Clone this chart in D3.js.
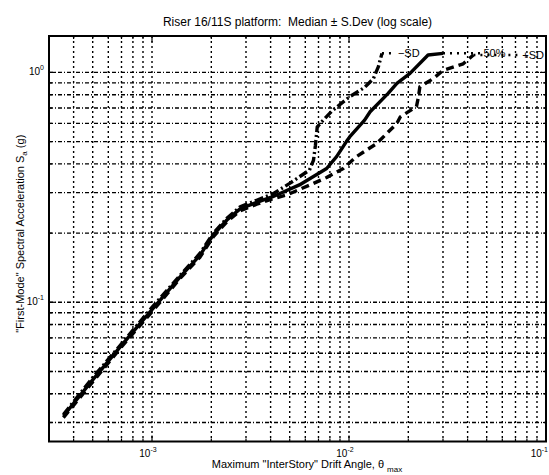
<!DOCTYPE html>
<html>
<head>
<meta charset="utf-8">
<script src="https://cdn.jsdelivr.net/npm/d3@7"></script>
<style>
  body { margin: 0; background: #fff; }
  text { font-family: "Liberation Sans", Arial, sans-serif; fill: #000; }
</style>
</head>
<body>
<svg id="chart" width="549" height="475"></svg>
<script>
// Series (drift angle vs Sa)
var minusSdX = [3.55e-4, 5e-4, 7e-4, 1e-3, 1.4e-3, 1.75e-3, 2.05e-3, 2.4e-3, 2.8e-3, 3.4e-3, 4.1e-3, 5.0e-3, 6.3e-3, 6.6e-3, 6.75e-3, 6.9e-3, 7.4e-3, 8.2e-3, 1.0e-2, 1.2e-2, 1.33e-2, 1.41e-2, 1.47e-2];
var minusSdY = [0.0325, 0.047, 0.066, 0.095, 0.132, 0.163, 0.2, 0.232, 0.26, 0.278, 0.296, 0.329, 0.376, 0.414, 0.48, 0.58, 0.62, 0.68, 0.78, 0.86, 0.94, 1.06, 1.21];

var medianX = [3.55e-4, 5e-4, 7e-4, 1e-3, 1.4e-3, 1.75e-3, 2.05e-3, 2.4e-3, 2.8e-3, 3.4e-3, 4.1e-3, 5.6e-3, 7.7e-3, 8.65e-3, 9.7e-3, 1.01e-2, 1.2e-2, 1.28e-2, 1.58e-2, 1.75e-2, 2.04e-2, 2.52e-2, 3.0e-2];
var medianY = [0.032, 0.046, 0.065, 0.093, 0.13, 0.16, 0.197, 0.228, 0.255, 0.272, 0.288, 0.324, 0.382, 0.43, 0.50, 0.525, 0.62, 0.674, 0.811, 0.896, 0.99, 1.19, 1.21];

var plusSdX = [3.55e-4, 5e-4, 7e-4, 1e-3, 1.4e-3, 1.75e-3, 2.05e-3, 2.4e-3, 2.8e-3, 3.4e-3, 4.1e-3, 4.83e-3, 6.34e-3, 7.7e-3, 9.35e-3, 1.09e-2, 1.38e-2, 1.75e-2, 1.82e-2, 2.2e-2, 2.25e-2, 2.29e-2, 2.68e-2, 3.0e-2, 3.8e-2, 4.28e-2];
var plusSdY = [0.0315, 0.045, 0.064, 0.091, 0.128, 0.157, 0.193, 0.224, 0.25, 0.267, 0.282, 0.293, 0.324, 0.349, 0.382, 0.43, 0.49, 0.60, 0.64, 0.71, 0.78, 0.866, 0.94, 1.02, 1.09, 1.19];

// flat-line tails running to the curve labels
var tailEndX = [1.73e-2, 4.7e-2, 7.4e-2];
var curveLabels = ["\u2212SD", "50%", "+SD"];

var xMajor = [1e-3, 1e-2, 1e-1];
var xMajorExp = ["-3", "-2", "-1"];
var yMajor = [1e-1, 1e0];
var yMajorExp = ["-1", "0"];

var svg = d3.select("#chart");
var plotLeft = 49, plotRight = 546, plotTop = 36, plotBottom = 441.5;

var x = d3.scaleLog().domain([3e-4, 0.1]).range([plotLeft, plotRight]);
var y = d3.scaleLog().domain([0.0248, 1.44]).range([plotBottom, plotTop]);

// grid lines at every decade step
var xGrid = [];
[1e-4, 1e-3, 1e-2].forEach(function(d) {
    for (var k = 1; k < 10; k++) {
        var v = d * k;
        if (v >= 3e-4 && v < 0.1) xGrid.push(v);
    }
});
var yGrid = [];
[1e-2, 1e-1, 1].forEach(function(d) {
    for (var k = 1; k < 10; k++) {
        var v = d * k;
        if (v >= 0.025 && v <= 1.44) yGrid.push(v);
    }
});

svg.append("g").selectAll("line")
    .data(xGrid)
    .enter().append("line")
    .attr("x1", function(d) { return x(d); })
    .attr("x2", function(d) { return x(d); })
    .attr("y1", plotTop).attr("y2", plotBottom)
    .attr("stroke", "#000")
    .attr("stroke-width", 1.4)
    .attr("stroke-dasharray", "2,3");

svg.append("g").selectAll("line")
    .data(yGrid)
    .enter().append("line")
    .attr("y1", function(d) { return y(d); })
    .attr("y2", function(d) { return y(d); })
    .attr("x1", plotLeft).attr("x2", plotRight)
    .attr("stroke", "#000")
    .attr("stroke-width", 1.4)
    .attr("stroke-dasharray", "4,2,1,2");

// inside ticks on all four sides
var ticks = svg.append("g").attr("stroke", "#000").attr("stroke-width", 1.2);
xGrid.concat([0.1]).forEach(function(d) {
    var len = xMajor.indexOf(d) != -1 ? 6 : 3;
    ticks.append("line").attr("x1", x(d)).attr("x2", x(d)).attr("y1", plotBottom).attr("y2", plotBottom - len);
    ticks.append("line").attr("x1", x(d)).attr("x2", x(d)).attr("y1", plotTop).attr("y2", plotTop + len);
});
yGrid.forEach(function(d) {
    var len = yMajor.indexOf(d) != -1 ? 6 : 3;
    ticks.append("line").attr("y1", y(d)).attr("y2", y(d)).attr("x1", plotLeft).attr("x2", plotLeft + len);
    ticks.append("line").attr("y1", y(d)).attr("y2", y(d)).attr("x1", plotRight).attr("x2", plotRight - len);
});

// curves
var line = d3.line()
    .x(function(d) { return x(d[0]); })
    .y(function(d) { return y(d[1]); });

var series = [
    { xs: minusSdX, ys: minusSdY, dash: "9,3,2,3" },
    { xs: medianX, ys: medianY, dash: null },
    { xs: plusSdX, ys: plusSdY, dash: "8,5" }
];

series.forEach(function(s, i) {
    var pts = d3.zip(s.xs, s.ys);
    svg.append("path")
        .datum(pts)
        .attr("d", line)
        .attr("fill", "none")
        .attr("stroke", "#000")
        .attr("stroke-width", 3.4)
        .attr("stroke-linejoin", "round")
        .attr("stroke-dasharray", s.dash);

    var last = pts[pts.length - 1];
    svg.append("path")
        .datum([last, [tailEndX[i], last[1]]])
        .attr("d", line)
        .attr("fill", "none")
        .attr("stroke", "#000")
        .attr("stroke-width", 2.5)
        .attr("stroke-dasharray", "2,5");

    svg.append("text")
        .attr("x", x(tailEndX[i]) + 2)
        .attr("y", y(last[1]) + 4)
        .attr("font-size", 11)
        .text(curveLabels[i]);
});

// frame
svg.append("rect")
    .attr("x", plotLeft).attr("y", plotTop)
    .attr("width", plotRight - plotLeft).attr("height", plotBottom - plotTop)
    .attr("fill", "none")
    .attr("stroke", "#000")
    .attr("stroke-width", 2);

// tick labels (last one pulled inside the page edge)
xMajor.forEach(function(d, i) {
    var last = i == xMajor.length - 1;
    var t = svg.append("text")
        .attr("x", last ? 548 : x(d) - 4)
        .attr("y", 457)
        .attr("font-size", 10)
        .attr("text-anchor", last ? "end" : "middle");
    t.append("tspan").text("10");
    t.append("tspan").attr("font-size", 7).attr("dy", -5).text(xMajorExp[i]);
});
yMajor.forEach(function(d, i) {
    var t = svg.append("text")
        .attr("x", 44)
        .attr("y", y(d) + 3)
        .attr("font-size", 10)
        .attr("text-anchor", "end");
    t.append("tspan").text("10");
    t.append("tspan").attr("font-size", 7).attr("dy", -5).text(yMajorExp[i]);
});

// title and axis labels
svg.append("text")
    .attr("x", (plotLeft + plotRight) / 2)
    .attr("y", 26)
    .attr("font-size", 12)
    .attr("text-anchor", "middle")
    .text("Riser 16/11S platform:\u00a0 Median \u00b1 S.Dev (log scale)");

var xl = svg.append("text")
    .attr("x", 307)
    .attr("y", 468)
    .attr("font-size", 11)
    .attr("text-anchor", "middle");
xl.append("tspan").text("Maximum \"InterStory\" Drift Angle, \u03b8");
xl.append("tspan").attr("font-size", 8).attr("dx", 3).attr("dy", 4).text("max");

var yl = svg.append("text")
    .attr("transform", "translate(24," + ((plotTop + plotBottom) / 2 - 5) + ") rotate(-90)")
    .attr("font-size", 11)
    .attr("text-anchor", "middle");
yl.append("tspan").text("\"First-Mode\" Spectral Acceleration S");
yl.append("tspan").attr("font-size", 8).attr("dy", 3).text("a");
yl.append("tspan").attr("dy", -3).text(" (g)");
</script>
</body>
</html>
